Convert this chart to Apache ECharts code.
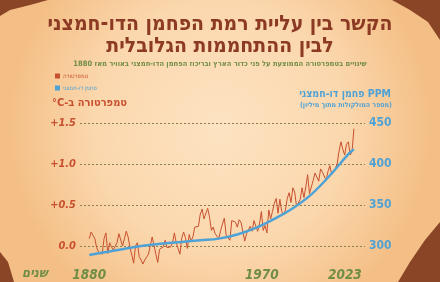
<!DOCTYPE html>
<html><head><meta charset="utf-8">
<script src="https://cdn.jsdelivr.net/npm/echarts@6/dist/echarts.min.js"></script>
<style>html,body{margin:0;padding:0;background:#fbd6aa;}#c{width:440px;height:282px;}</style>
</head><body><div id="c"></div>
<script>
const years = [];
for (let y = 1880; y <= 2023; y++) years.push(y);
const tempValues = [
0.09,0.17,0.15,0.09,-0.02,-0.07,-0.05,-0.10,0.09,0.16,
-0.09,0.04,-0.01,-0.05,-0.04,0.04,0.15,0.15,0.00,0.09,
0.18,0.11,-0.02,-0.11,-0.21,0.00,0.04,-0.13,-0.17,-0.22,
-0.17,-0.18,-0.10,-0.08,0.11,0.12,-0.10,-0.20,-0.04,-0.02,
-0.01,0.07,-0.02,0.00,-0.01,0.04,0.16,0.04,0.06,-0.10,
0.10,0.17,0.10,-0.03,0.14,0.06,0.11,0.23,0.24,0.24,
0.39,0.45,0.33,0.35,0.46,0.35,0.19,0.23,0.15,0.15,
0.09,0.19,0.27,0.34,0.13,0.12,0.07,0.31,0.32,0.29,
0.23,0.32,0.29,0.31,0.06,0.15,0.20,0.24,0.18,0.31,
0.29,0.18,0.27,0.42,0.19,0.25,0.16,0.44,0.33,0.42,
0.52,0.58,0.40,0.57,0.42,0.38,0.44,0.58,0.65,0.53,
0.71,0.66,0.48,0.49,0.57,0.71,0.59,0.72,0.87,0.64,
0.65,0.80,0.89,0.88,0.79,0.94,0.90,0.92,0.80,0.91,
0.98,0.87,0.91,0.94,1.01,1.16,1.27,1.18,1.11,1.24,
1.27,1.11,1.15,1.43];
const co2Years = [1880,1890,1900,1910,1920,1930,1940,1950,1960,1970,1980,1990,2000,2010,2020,2023];
const co2Values = [289,293,297,300.5,303,305,307,309,314,322,333,346,363,386,412,418];
const tempTicks = [0, 0.5, 1.0, 1.5];
const co2Ticks = [300, 350, 400, 450];
const yearLabels = [1880, 1970, 2023];

const names = { temp: 'טמפרטורה', co2: 'פחמן דו-חמצני' };
const RED = '#c8502f', BLUE = '#4ea2d6', GREEN = '#6f8d45', BROWN = '#8c3a24';
const FONT = 'DejaVu Sans Condensed, DejaVu Sans';

const chart = echarts.init(document.getElementById('c'), null, {renderer: 'canvas'});
chart.setOption({
  backgroundColor: {
    type: 'radial', x: 0.5, y: 0.45, r: 0.75,
    colorStops: [{offset: 0, color: '#fde3c2'}, {offset: 0.6, color: '#fbd7ad'}, {offset: 1, color: '#f4bf86'}]
  },
  animation: false,
  title: [
    {
      text: 'הקשר בין עליית רמת הפחמן הדו-חמצני\nלבין ההתחממות הגלובלית',
      left: 'center', top: 9,
      textStyle: {fontFamily: FONT, fontWeight: 'bold', fontSize: 21, lineHeight: 22, color: BROWN}
    },
    {
      text: 'שינויים בטמפרטורה הממוצעת על פני כדור הארץ ובריכוז הפחמן הדו-חמצני באוויר מאז 1880',
      left: 'center', top: 55,
      textStyle: {fontFamily: FONT, fontWeight: 'bold', fontSize: 7.5, color: GREEN}
    }
  ],
  legend: {
    orient: 'vertical', left: 50, top: 68, itemWidth: 5, itemHeight: 5, itemGap: 6,
    icon: 'rect', selectedMode: false,
    textStyle: {fontSize: 6, fontFamily: FONT, padding: [0,0,0,-2]},
    data: [{name: names.temp, textStyle: {color: RED}}, {name: names.co2, textStyle: {color: BLUE}}]
  },
  graphic: [
    {type: 'polygon', silent: true, shape: {points: [[0,0],[48,0],[30,5],[10,10],[0,16]]}, style: {fill: '#8a4426'}},
    {type: 'polygon', silent: true, shape: {points: [[392,0],[440,0],[440,40],[428,22],[410,10]]}, style: {fill: '#8a4426'}},
    {type: 'polygon', silent: true, shape: {points: [[440,222],[440,282],[398,282],[410,262],[425,240]]}, style: {fill: '#8a4426'}},
    {type: 'polygon', silent: true, shape: {points: [[0,252],[8,262],[14,282],[0,282]]}, style: {fill: '#8a4426'}},
    {type: 'text', left: 52, top: 98, style: {text: '\u202Bטמפרטורה ב-\u200E°C\u202C', fill: RED, font: 'bold 11px "DejaVu Sans Condensed", "DejaVu Sans"'}},
    {type: 'text', right: 49, top: 89, style: {text: 'פחמן דו-חמצני PPM', fill: BLUE, font: 'bold 10.5px "DejaVu Sans Condensed", "DejaVu Sans"'}},
    {type: 'text', right: 48, top: 102, style: {text: '(מספר המולקולות מתוך מיליון)', fill: BLUE, font: 'bold 7px "DejaVu Sans Condensed", "DejaVu Sans"'}},
    {type: 'text', left: 22, top: 267, style: {text: 'שנים', fill: GREEN, font: 'italic bold 13px "DejaVu Sans Condensed", "DejaVu Sans"'}}
  ],
  grid: {left: 80, right: 75, top: 123, bottom: 36},
  xAxis: {
    type: 'value', min: 1875, max: 2029,
    axisLine: {show: false}, axisTick: {show: false}, splitLine: {show: false},
    axisLabel: {
      customValues: yearLabels, margin: 22,
      formatter: v => v === 1970 ? '{m|' + v + '}' : (v === 2023 ? '{e|' + v + '}' : '{s|' + v + '}'),
      rich: {
        s: {color: GREEN, fontSize: 13.5, fontWeight: 'bold', fontStyle: 'italic', fontFamily: FONT},
        m: {color: GREEN, fontSize: 13.5, fontWeight: 'bold', fontStyle: 'italic', fontFamily: FONT, padding: [0,0,0,12]},
        e: {color: GREEN, fontSize: 13.5, fontWeight: 'bold', fontStyle: 'italic', fontFamily: FONT, padding: [0,18,0,0]}
      }
    }
  },
  yAxis: [
    {
      type: 'value', min: tempTicks[0], max: tempTicks[tempTicks.length-1], interval: 0.5,
      axisLine: {show: false}, axisTick: {show: false},
      splitLine: {lineStyle: {color: '#8a8050', type: [2, 2], width: 1}},
      axisLabel: {
        margin: 4, color: RED, fontSize: 11, fontWeight: 'bold', fontStyle: 'italic', fontFamily: FONT,
        formatter: v => v === 0 ? '0.0' : '+' + v.toFixed(1)
      }
    },
    {
      type: 'value', min: co2Ticks[0], max: co2Ticks[co2Ticks.length-1], interval: 50, position: 'right',
      axisLine: {show: false}, axisTick: {show: false}, splitLine: {show: false},
      axisLabel: {margin: 4, color: BLUE, fontSize: 12, fontWeight: 'bold', fontFamily: FONT}
    }
  ],
  series: [
    {
      name: names.temp, type: 'line', yAxisIndex: 0, clip: false, showSymbol: false, symbol: 'none',
      data: years.map((y, i) => [y, tempValues[i]]),
      lineStyle: {color: RED, width: 1}, itemStyle: {color: RED}, z: 3
    },
    {
      name: names.co2, type: 'line', yAxisIndex: 1, clip: false, showSymbol: false, symbol: 'none', smooth: 0.4,
      data: co2Years.map((y, i) => [y, co2Values[i]]),
      lineStyle: {color: BLUE, width: 2.5}, itemStyle: {color: BLUE}, z: 4
    }
  ]
});
</script></body></html>
